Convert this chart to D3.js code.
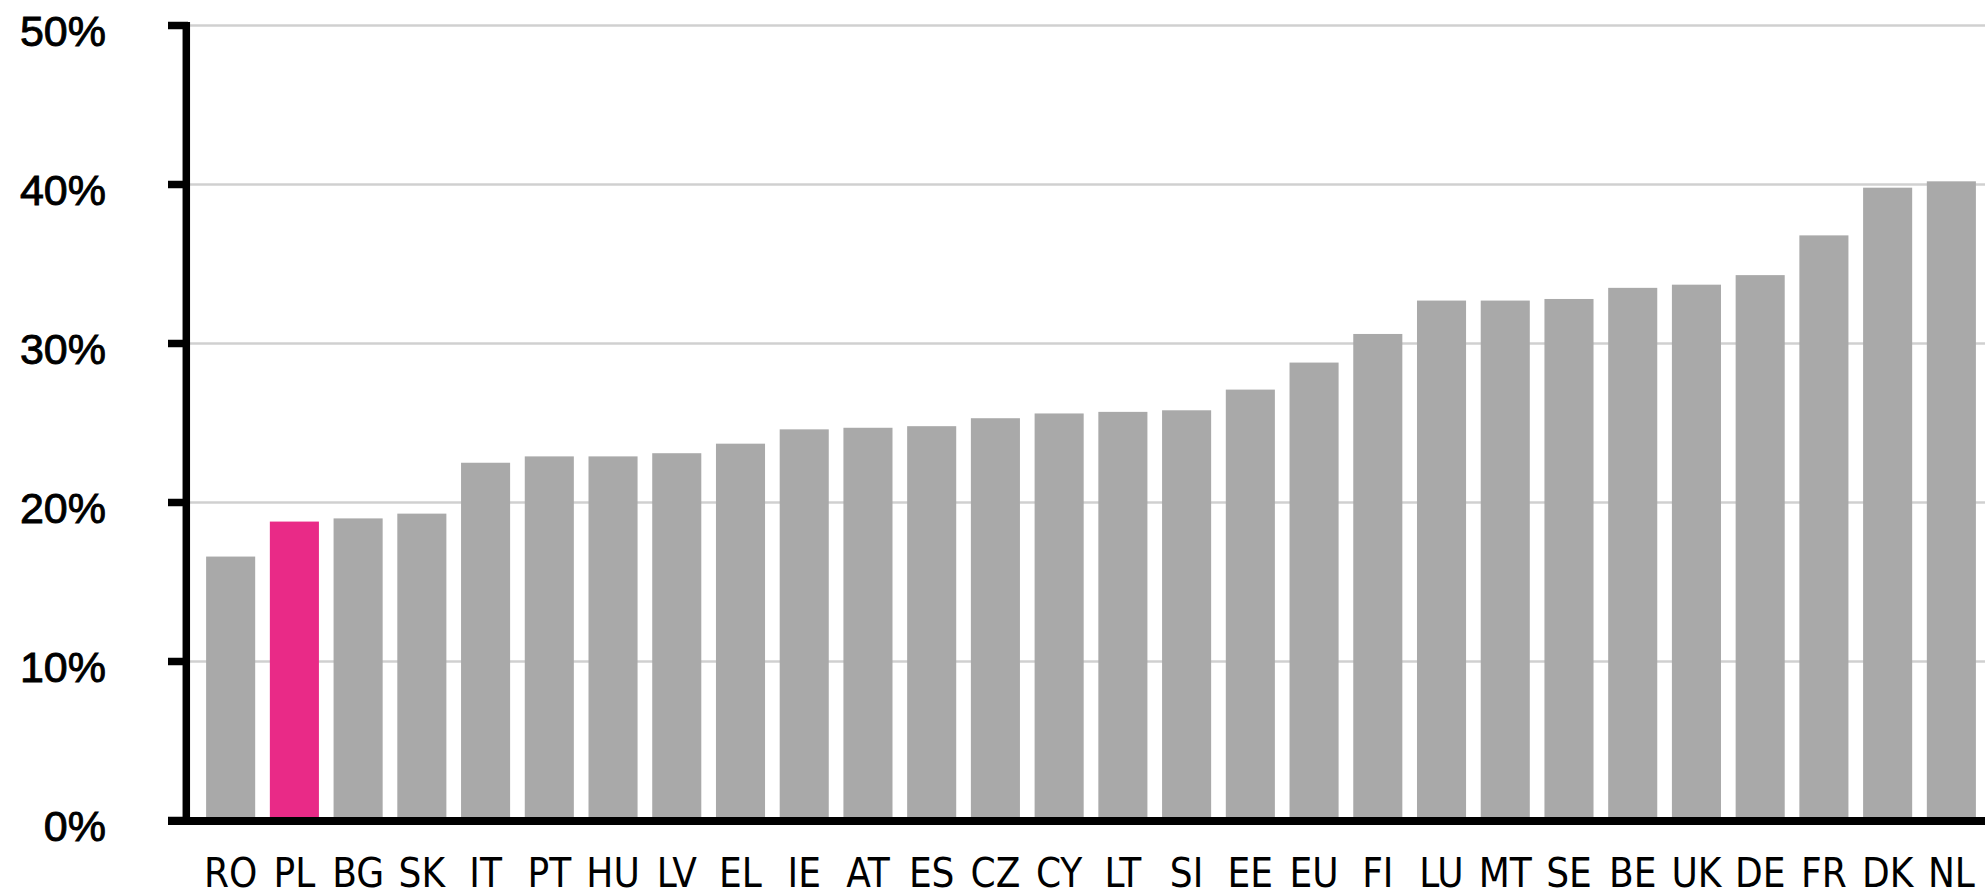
<!DOCTYPE html>
<html>
<head>
<meta charset="utf-8">
<script src="https://cdn.jsdelivr.net/npm/d3@7"></script>
<style>
  html, body { margin: 0; padding: 0; background: #fff; }
  svg { display: block; }
</style>
</head>
<body>
<div id="chart"></div>
<script>
// countries, sorted low to high
const countries = ["RO","PL","BG","SK","IT","PT","HU","LV","EL","IE","AT","ES","CZ","CY",
                   "LT","SI","EE","EU","FI","LU","MT","SE","BE","UK","DE","FR","DK","NL"];
const shares = [16.6,18.8,19.0,19.3,22.5,22.9,22.9,23.1,23.7,24.6,24.7,24.8,25.3,25.6,
                25.7,25.8,27.1,28.8,30.6,32.7,32.7,32.8,33.5,33.7,34.3,36.8,39.8,40.2];
const yTicks = [0, 10, 20, 30, 40, 50];
const highlight = "PL";

const width = 1985, height = 893;
const regFill = "#a9a9a9";
const highlightFill = "#e92a87";

const svg = d3.select("#chart").append("svg")
    .attr("width", width).attr("height", height);

const y = d3.scaleLinear().domain([0, 50]).range([820.5, 25.5]);

const step = 63.73, padIn = 0.23, padOut = 0.3;
const x0 = 187;
const x = d3.scaleBand()
    .domain(countries)
    .range([x0, x0 + step * (countries.length - padIn + 2 * padOut)])
    .paddingInner(padIn)
    .paddingOuter(padOut);

// gridlines
svg.append("g")
    .selectAll("line")
    .data(yTicks.filter(t => t > 0))
    .enter().append("line")
    .attr("x1", 187).attr("x2", width)
    .attr("y1", d => y(d)).attr("y2", d => y(d))
    .attr("stroke", "#d0d0d0").attr("stroke-width", 2.5);

// bars
svg.append("g")
    .selectAll("rect")
    .data(countries.map((c, i) => ({c, v: shares[i]})))
    .enter().append("rect")
    .attr("x", d => x(d.c))
    .attr("width", x.bandwidth())
    .attr("y", d => y(d.v))
    .attr("height", d => y(0) - y(d.v))
    .attr("fill", d => d.c === highlight ? highlightFill : regFill);

// y axis
const yAxis = svg.append("g");
yAxis.append("line")
    .attr("x1", 186.3).attr("x2", 186.3)
    .attr("y1", y(50) - 3.5).attr("y2", y(0) + 4.5)
    .attr("stroke", "#000").attr("stroke-width", 7.5);
yAxis.selectAll("line.tick")
    .data(yTicks)
    .enter().append("line").attr("class", "tick")
    .attr("x1", 168).attr("x2", 188)
    .attr("y1", d => y(d)).attr("y2", d => y(d))
    .attr("stroke", "#000").attr("stroke-width", 7.5);
yAxis.selectAll("text")
    .data(yTicks)
    .enter().append("text")
    .attr("x", 106)
    .attr("y", d => y(d) + 20)
    .attr("text-anchor", "end")
    .attr("font-family", "Liberation Sans, Arial, sans-serif")
    .attr("font-size", "43px")
    .attr("fill", "#000")
    .attr("stroke", "#000").attr("stroke-width", 0.9)
    .text(d => d + "%");

// x axis
svg.append("line")
    .attr("x1", 168).attr("x2", width)
    .attr("y1", 821).attr("y2", 821)
    .attr("stroke", "#000").attr("stroke-width", 8);

svg.append("g")
    .selectAll("text")
    .data(countries)
    .enter().append("text")
    .attr("x", d => x(d) + x.bandwidth() / 2)
    .attr("y", 887)
    .attr("text-anchor", "middle")
    .attr("font-family", "Liberation Sans Narrow, DejaVu Sans Condensed, sans-serif")
    .attr("font-size", "40px")
    .attr("fill", "#000")
    .text(d => d);
</script>
</body>
</html>
